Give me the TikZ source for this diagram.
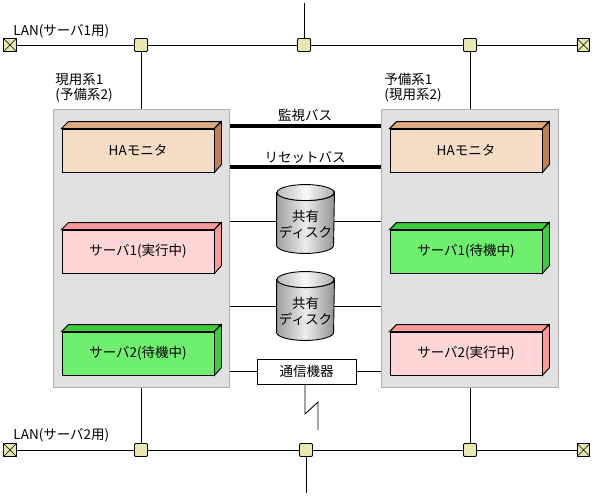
\documentclass[tikz,border=0pt]{standalone}
\usepackage{fontspec}
\setmainfont{Noto Sans CJK JP}
\definecolor{termfill}{RGB}{232,232,176}
\definecolor{sysfill}{RGB}{224,224,224}
\definecolor{sysborder}{RGB}{176,176,176}
\definecolor{hafront}{RGB}{245,220,197}
\definecolor{hatop}{RGB}{218,170,128}
\definecolor{haside}{RGB}{192,128,80}
\definecolor{pinkfront}{RGB}{255,213,213}
\definecolor{pinkside}{RGB}{255,153,153}
\definecolor{greenfront}{RGB}{110,240,110}
\definecolor{greenside}{RGB}{60,204,60}
\newcommand\threedbox[3]{%
  \filldraw[fill=#2] (#1.north west) -- ++(7,-7) -- ++(152,0) -- (#1.north east) -- cycle;
  \filldraw[fill=#3] (#1.north east) -- ++(7,-7) -- ++(0,43) -- (#1.south east) -- cycle;}
\newcommand\diskdraw[1]{%
  \shade[draw, left color=gray!75, right color=gray!85, middle color=gray!15]
    (#1.north west) ++(0,8) -- ($(#1.south west)+(0,-8)$)
    arc[start angle=180, end angle=0, x radius=28.5, y radius=8]
    -- ($(#1.north east)+(0,8)$) arc[start angle=0, end angle=180, x radius=28.5, y radius=8] -- cycle;
  \shade[draw, left color=gray!55, right color=gray!65, middle color=gray!5]
    ($(#1.north)+(0,8)$) ellipse[x radius=28.5, y radius=8];}
\usetikzlibrary{calc}
\begin{document}
\begin{tikzpicture}[x=1pt,y=-1pt, line width=0.9pt,
  font=\fontsize{13.5}{15}\selectfont,
  term/.style={draw, fill=termfill, minimum size=12.5pt, inner sep=0pt,
    path picture={\draw[line width=0.6pt] (path picture bounding box.north west) -- (path picture bounding box.south east)
      (path picture bounding box.north east) -- (path picture bounding box.south west);}},
  conn/.style={draw, fill=termfill, minimum size=13pt, inner sep=0pt, rounded corners=1pt},
  sys/.style={draw=sysborder, fill=sysfill, inner sep=0pt, line width=1pt},
  front/.style={draw, minimum width=152pt, minimum height=43pt, inner sep=0pt},
  bus/.style={line width=4.5pt},
  lbl/.style={inner sep=0pt},
  disk/.style={minimum width=57pt, minimum height=68pt, inner sep=0pt},
  disktext/.style={align=center, font=\fontsize{13.5}{16}\selectfont, inner sep=0pt}]
\useasboundingbox (0,0) rectangle (593,496);

% system boxes
\node[sys, minimum width=176pt, minimum height=278pt] (sysL) at (141,248) {};
\node[sys, minimum width=177pt, minimum height=278pt] (sysR) at (469.5,248) {};

% top LAN
\node[term] (t1l) at (10,45) {};
\node[conn] (c1a) at (141,45) {};
\node[conn] (c1b) at (304,45) {};
\node[conn] (c1c) at (470,45) {};
\node[term] (t1r) at (583.5,45) {};
\coordinate (topend) at (304,3);
\draw (t1l) -- (c1a) -- (c1b) -- (c1c) -- (t1r);
\draw (topend) -- (c1b);
\draw (c1a) -- (sysL.north);
\draw (c1c) -- (c1c |- sysR.north);
\node[lbl, anchor=west] (lan1) at (13,31) {LAN(サーバ1用)};

% bottom LAN
\node[term] (t2l) at (10,450) {};
\node[conn] (c2a) at (141,450) {};
\node[conn] (c2b) at (306,450) {};
\node[conn] (c2c) at (470,450) {};
\node[term] (t2r) at (583.5,450) {};
\coordinate (botend) at (306,493);
\draw (t2l) -- (c2a) -- (c2b) -- (c2c) -- (t2r);
\draw (c2b) -- (botend);
\draw (sysL.south) -- (c2a);
\draw (c2c |- sysR.south) -- (c2c);
\node[lbl, anchor=west] (lan2) at (13,435) {LAN(サーバ2用)};

% system labels
\node[lbl, anchor=north west, align=left, font=\fontsize{13.5}{14.5}\selectfont] (labL) at (55,73) {現用系1\\(予備系2)};
\node[lbl, anchor=north west, align=left, font=\fontsize{13.5}{14.5}\selectfont] (labR) at (384,73) {予備系1\\(現用系2)};

% 3D boxes
\node[front, fill=hafront] (haL) at (138,150.5) {HAモニタ};
\threedbox{haL}{hatop}{haside}
\node[front, fill=hafront] (haR) at (466,150.5) {HAモニタ};
\threedbox{haR}{hatop}{haside}
\node[front, fill=pinkfront] (s1L) at (138,251.5) {サーバ1(実行中)};
\threedbox{s1L}{pinkside}{pinkside}
\node[front, fill=greenfront] (s1R) at (466,251.5) {サーバ1(待機中)};
\threedbox{s1R}{greenside}{greenside}
\node[front, fill=greenfront] (s2L) at (138,353.5) {サーバ2(待機中)};
\threedbox{s2L}{greenside}{greenside}
\node[front, fill=pinkfront] (s2R) at (466,353.5) {サーバ2(実行中)};
\threedbox{s2R}{pinkside}{pinkside}

% buses
\draw[bus] (sysL.east |- 0,126) -- (sysR.west |- 0,126);
\node[lbl] (monbus) at (305,115) {監視バス};
\draw[bus] (sysL.east |- 0,167) -- (sysR.west |- 0,167);
\node[lbl] (rstbus) at (305,157) {リセットバス};

% disks
\node[disk] (d1) at (305.5,219) {};
\node[disk] (d2) at (305.5,306) {};
\draw (sysL.east |- 0,221) -- (d1.west |- 0,221);
\draw (d1.east |- 0,221) -- (sysR.west |- 0,221);
\draw (sysL.east |- 0,306) -- (d2.west |- 0,306);
\draw (d2.east |- 0,306) -- (sysR.west |- 0,306);
\diskdraw{d1}
\diskdraw{d2}
\node[disktext] (d1t) at (305.5,224) {共有\\ディスク};
\node[disktext] (d2t) at (305.5,311) {共有\\ディスク};

% communication device
\node[draw, fill=white, minimum width=99pt, minimum height=25pt, inner sep=0pt, line width=0.9pt] (comm) at (306.5,371.5) {通信機器};
\draw (sysL.east |- comm) -- (comm);
\draw (comm) -- (sysR.west |- comm);
\coordinate (zend) at (318,430);
\draw (comm.south -| 305,0) -- (305,414) -- (318,402) -- (zend);
\end{tikzpicture}
\end{document}
